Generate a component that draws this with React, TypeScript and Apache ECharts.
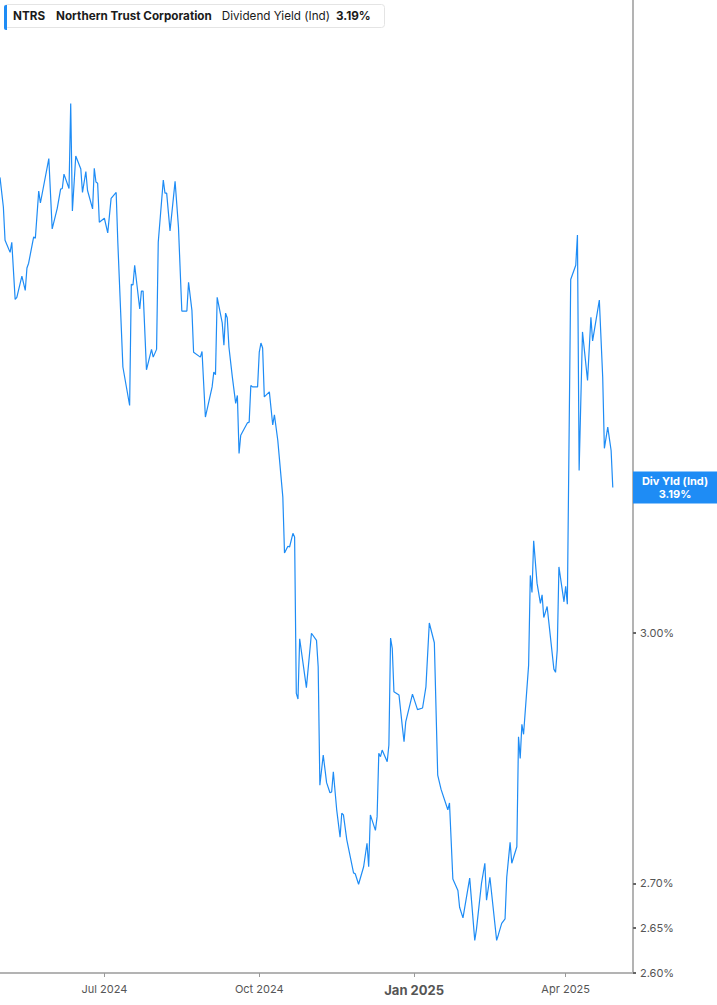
import React, { useEffect, useRef } from "react";
import * as echarts from "echarts";

// NTRS dividend yield (ind)
const dates = [
  "2024-04-30", "2024-05-02", "2024-05-03", "2024-05-06", "2024-05-07", "2024-05-09", "2024-05-10",
  "2024-05-13", "2024-05-15", "2024-05-16", "2024-05-17", "2024-05-20", "2024-05-21", "2024-05-23",
  "2024-05-24", "2024-05-29", "2024-05-31", "2024-06-03", "2024-06-05", "2024-06-06", "2024-06-07",
  "2024-06-10", "2024-06-11", "2024-06-12", "2024-06-14", "2024-06-17", "2024-06-18", "2024-06-20",
  "2024-06-21", "2024-06-24", "2024-06-25", "2024-06-26", "2024-06-27", "2024-06-28", "2024-07-01",
  "2024-07-03", "2024-07-05", "2024-07-08", "2024-07-09", "2024-07-12", "2024-07-16", "2024-07-17",
  "2024-07-18", "2024-07-19", "2024-07-22", "2024-07-23", "2024-07-24", "2024-07-26", "2024-07-29",
  "2024-07-30", "2024-08-01", "2024-08-02", "2024-08-05", "2024-08-06", "2024-08-07", "2024-08-09",
  "2024-08-12", "2024-08-14", "2024-08-16", "2024-08-19", "2024-08-20", "2024-08-22", "2024-08-23",
  "2024-08-27", "2024-08-28", "2024-08-30", "2024-09-03", "2024-09-04", "2024-09-05", "2024-09-06",
  "2024-09-09", "2024-09-10", "2024-09-11", "2024-09-12", "2024-09-13", "2024-09-15", "2024-09-17",
  "2024-09-18", "2024-09-19", "2024-09-20", "2024-09-24", "2024-09-25", "2024-09-26", "2024-09-27",
  "2024-09-30", "2024-10-01", "2024-10-02", "2024-10-03", "2024-10-04", "2024-10-07", "2024-10-09",
  "2024-10-10", "2024-10-12", "2024-10-15", "2024-10-16", "2024-10-18", "2024-10-19", "2024-10-21",
  "2024-10-22", "2024-10-23", "2024-10-24", "2024-10-25", "2024-10-29", "2024-11-01", "2024-11-04",
  "2024-11-05", "2024-11-06", "2024-11-08", "2024-11-10", "2024-11-12", "2024-11-13", "2024-11-14",
  "2024-11-16", "2024-11-18", "2024-11-19", "2024-11-20", "2024-11-22", "2024-11-26", "2024-11-27",
  "2024-11-29", "2024-12-02", "2024-12-04", "2024-12-05", "2024-12-06", "2024-12-09", "2024-12-10",
  "2024-12-11", "2024-12-12", "2024-12-13", "2024-12-16", "2024-12-17", "2024-12-18", "2024-12-19",
  "2024-12-20", "2024-12-23", "2024-12-25", "2024-12-26", "2024-12-27", "2024-12-31", "2025-01-03",
  "2025-01-06", "2025-01-08", "2025-01-10", "2025-01-13", "2025-01-15", "2025-01-17", "2025-01-21",
  "2025-01-22", "2025-01-24", "2025-01-27", "2025-01-28", "2025-01-30", "2025-02-03", "2025-02-06",
  "2025-02-07", "2025-02-10", "2025-02-12", "2025-02-13", "2025-02-15", "2025-02-19", "2025-02-20",
  "2025-02-22", "2025-02-24", "2025-02-25", "2025-02-27", "2025-02-28", "2025-03-03", "2025-03-04",
  "2025-03-05", "2025-03-06", "2025-03-07", "2025-03-10", "2025-03-11", "2025-03-12", "2025-03-13",
  "2025-03-15", "2025-03-17", "2025-03-18", "2025-03-19", "2025-03-21", "2025-03-25", "2025-03-26",
  "2025-03-27", "2025-03-28", "2025-03-31", "2025-04-01", "2025-04-02", "2025-04-04", "2025-04-07",
  "2025-04-08", "2025-04-09", "2025-04-11", "2025-04-14", "2025-04-16", "2025-04-17", "2025-04-21",
  "2025-04-23", "2025-04-24", "2025-04-26", "2025-04-28", "2025-04-29",
];

const yields = [
  3.635, 3.59, 3.54, 3.522, 3.537, 3.453, 3.456,
  3.487, 3.466, 3.499, 3.506, 3.545, 3.543, 3.614,
  3.596, 3.664, 3.557, 3.588, 3.617, 3.618, 3.64,
  3.618, 3.75, 3.584, 3.668, 3.648, 3.612, 3.644,
  3.615, 3.587, 3.649, 3.628, 3.626, 3.567, 3.573,
  3.551, 3.603, 3.612, 3.536, 3.356, 3.302, 3.475,
  3.474, 3.503, 3.439, 3.465, 3.465, 3.352, 3.381,
  3.37, 3.381, 3.537, 3.631, 3.611, 3.611, 3.554,
  3.629, 3.56, 3.436, 3.436, 3.478, 3.437, 3.377,
  3.37, 3.378, 3.286, 3.328, 3.349, 3.345, 3.456,
  3.419, 3.387, 3.433, 3.426, 3.384, 3.342, 3.305,
  3.316, 3.236, 3.261, 3.278, 3.279, 3.33, 3.328,
  3.328, 3.377, 3.39, 3.383, 3.314, 3.321, 3.275,
  3.289, 3.254, 3.177, 3.103, 3.112, 3.111, 3.129,
  3.124, 2.925, 2.918, 2.993, 2.932, 3.0, 2.991,
  2.958, 2.814, 2.85, 2.817, 2.805, 2.806, 2.83,
  2.785, 2.753, 2.781, 2.779, 2.75, 2.712, 2.711,
  2.699, 2.719, 2.746, 2.719, 2.779, 2.761, 2.777,
  2.852, 2.848, 2.856, 2.842, 2.862, 2.994, 2.981,
  2.927, 2.923, 2.884, 2.866, 2.89, 2.924, 2.905,
  2.907, 2.933, 3.013, 2.988, 2.826, 2.809, 2.785,
  2.793, 2.705, 2.692, 2.673, 2.661, 2.706, 2.636,
  2.648, 2.7, 2.723, 2.681, 2.707, 2.636, 2.642,
  2.655, 2.66, 2.707, 2.747, 2.723, 2.742, 2.872,
  2.846, 2.887, 2.875, 2.96, 3.074, 3.052, 3.119,
  3.064, 3.038, 3.049, 3.02, 3.034, 2.955, 2.951,
  2.979, 3.085, 3.04, 3.06, 3.037, 3.482, 3.503,
  3.548, 3.213, 3.406, 3.337, 3.427, 3.393, 3.452,
  3.342, 3.243, 3.272, 3.24, 3.19,
];

const yTicks = [2.6, 2.65, 2.7, 3.0];
const xTicks = ["2024-07-01", "2024-10-01", "2025-01-01", "2025-04-01"];
const xStart = "2024-04-30";
const xEnd = "2025-05-11";
const monthNames = ["Jan", "Feb", "Mar", "Apr", "May", "Jun", "Jul", "Aug", "Sep", "Oct", "Nov", "Dec"];

const lastYield = yields[yields.length - 1];
const lineColor = "#1e8cf5";

const toTime = (s: string) => {
  const [y, m, d] = s.split("-").map(Number);
  return new Date(y, m - 1, d).getTime();
};

const App: React.FC = () => {
  const chartRef = useRef<HTMLDivElement | null>(null);

  useEffect(() => {
    document.body.style.margin = "0";
    if (!chartRef.current) return;
    const chart = echarts.init(chartRef.current, null, { renderer: "svg" });
    const xTickTimes = xTicks.map(toTime);

    const option = {
      animation: false,
      backgroundColor: "#ffffff",
      textStyle: { fontFamily: "Inter, 'Noto Sans', sans-serif" },
      title: {
        left: 4,
        top: 4,
        padding: [6, 14, 6, 9],
        backgroundColor: "#ffffff",
        borderColor: "#e4e4e4",
        borderWidth: 1,
        borderRadius: 3,
        text: `{t|NTRS}{n|Northern Trust Corporation}{d|Dividend Yield (Ind)}{v|${lastYield.toFixed(2)}%}`,
        textStyle: {
          rich: {
            t: { fontSize: 11.7, fontWeight: "bold", color: "#1b1b1b", padding: [0, 11, 0, 0] },
            n: { fontSize: 11.7, fontWeight: "bold", color: "#1b1b1b", padding: [0, 10, 0, 0] },
            d: { fontSize: 11.7, fontWeight: "normal", color: "#1b1b1b", padding: [0, 6, 0, 0] },
            v: { fontSize: 11.7, fontWeight: "bold", color: "#1b1b1b" },
          },
        },
      },
      graphic: [
        {
          type: "rect",
          left: 4,
          top: 5,
          z: 100,
          shape: { width: 3, height: 25, r: [2, 0, 0, 2] },
          style: { fill: lineColor },
        },
      ],
      grid: { left: 0, right: 84, top: 0, bottom: 32 },
      xAxis: {
        type: "value",
        min: toTime(xStart),
        max: toTime(xEnd),
        axisLine: { show: true, onZero: false, lineStyle: { color: "#b3b3b3", width: 2 } },
        axisTick: { show: true, customValues: xTickTimes, length: 4, lineStyle: { color: "#999", width: 1 } },
        axisLabel: {
          customValues: xTickTimes,
          color: "#555",
          fontSize: 11,
          margin: 10,
          formatter: (value: number) => {
            const d = new Date(value);
            const text = `${monthNames[d.getMonth()]} ${d.getFullYear()}`;
            return d.getMonth() === 0 ? `{b|${text}}` : text;
          },
          rich: { b: { fontSize: 13, fontWeight: "bold", color: "#555" } },
        },
        splitLine: { show: false },
      },
      yAxis: {
        type: "log",
        position: "right",
        min: 2.6,
        max: 3.917,
        axisLine: { show: true, lineStyle: { color: "#b3b3b3", width: 2 } },
        axisTick: { show: true, customValues: yTicks, length: 3, lineStyle: { color: "#666", width: 2 } },
        axisLabel: {
          customValues: yTicks,
          color: "#555",
          fontSize: 11,
          margin: 7,
          formatter: (v: number) => `${v.toFixed(2)}%`,
        },
        splitLine: { show: false },
      },
      series: [
        {
          type: "line",
          data: dates.map((d, i) => [toTime(d), yields[i]]),
          showSymbol: false,
          symbol: "none",
          lineStyle: { color: lineColor, width: 1.2 },
          itemStyle: { color: lineColor },
          markLine: {
            silent: true,
            symbol: "none",
            lineStyle: { color: "rgba(0,0,0,0)", width: 0 },
            data: [{ yAxis: lastYield }],
            label: {
              show: true,
              position: "end",
              distance: 42,
              align: "center",
              formatter: `Div Yld (Ind)\n${lastYield.toFixed(2)}%`,
              backgroundColor: lineColor,
              color: "#ffffff",
              fontWeight: "bold",
              fontSize: 11,
              lineHeight: 13,
              padding: [3, 0],
              width: 84,
            },
          },
        },
      ],
    };

    chart.setOption(option);
    return () => chart.dispose();
  }, []);

  return <div ref={chartRef} style={{ width: 717, height: 1005 }} />;
};

export default App;
